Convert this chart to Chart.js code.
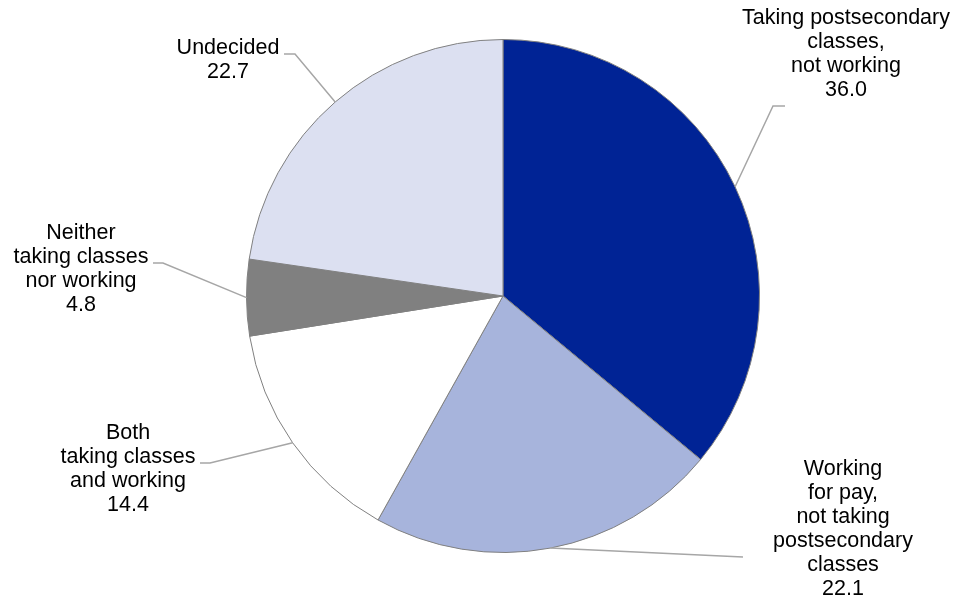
<!DOCTYPE html>
<html>
<head>
<meta charset="utf-8">
<script src="https://cdn.jsdelivr.net/npm/chart.js@4/dist/chart.umd.min.js"></script>
<style>
  body { margin: 0; background: #fff; }
  #wrap { width: 956px; height: 605px; }
</style>
</head>
<body>
<div id="wrap"><canvas id="chart" width="956" height="605"></canvas></div>
<script>
// categories, clockwise from 12 o'clock
const categories = [
  ['Taking postsecondary', 'classes,', 'not working'],
  ['Working', 'for pay,', 'not taking', 'postsecondary', 'classes'],
  ['Both', 'taking classes', 'and working'],
  ['Neither', 'taking classes', 'nor working'],
  ['Undecided']
]
const values = [36.0, 22.1, 14.4, 4.8, 22.7]
const sliceColors = ['#002395', '#A7B4DC', '#FFFFFF', '#808080', '#DCE0F1']

// label placement: text centre x, first line centre y, leader elbow and end
const labelLayout = [
  { x: 846, y: 18, elbow: [773, 106], end: [785, 106] },
  { x: 843, y: 469, elbow: [743, 557], end: [743, 557] },
  { x: 128, y: 433, elbow: [210, 463], end: [200, 463] },
  { x: 81, y: 233, elbow: [163, 263], end: [153, 263] },
  { x: 228, y: 48, elbow: [295, 54], end: [284, 54] }
]
const lineGap = 24

const calloutPlugin = {
  id: 'callouts',
  afterDatasetsDraw (chart) {
    const ctx = chart.ctx
    const arcs = chart.getDatasetMeta(0).data
    ctx.save()
    arcs.forEach((arc, i) => {
      const lay = labelLayout[i]
      const mid = (arc.startAngle + arc.endAngle) / 2
      const sx = arc.x + Math.cos(mid) * arc.outerRadius
      const sy = arc.y + Math.sin(mid) * arc.outerRadius
      ctx.strokeStyle = '#A6A6A6'
      ctx.lineWidth = 1.5
      ctx.beginPath()
      ctx.moveTo(sx, sy)
      ctx.lineTo(lay.elbow[0], lay.elbow[1])
      ctx.lineTo(lay.end[0], lay.end[1])
      ctx.stroke()

      const lines = categories[i].concat([values[i].toFixed(1)])
      ctx.fillStyle = '#000'
      ctx.font = '21.5px "Liberation Sans", Arial, sans-serif'
      ctx.textAlign = 'center'
      ctx.textBaseline = 'middle'
      lines.forEach((t, j) => ctx.fillText(t, lay.x, lay.y + j * lineGap))
    })
    ctx.restore()
  }
}

new Chart(document.getElementById('chart'), {
  type: 'pie',
  data: {
    labels: categories.map(c => c.join(' ')),
    datasets: [{
      data: values,
      backgroundColor: sliceColors,
      borderColor: '#808080',
      borderWidth: 1
    }]
  },
  options: {
    responsive: false,
    animation: false,
    layout: {
      padding: { top: 39, bottom: 52, left: 246, right: 196 }
    },
    plugins: {
      legend: { display: false },
      tooltip: { enabled: false }
    }
  },
  plugins: [calloutPlugin]
})
</script>
</body>
</html>
